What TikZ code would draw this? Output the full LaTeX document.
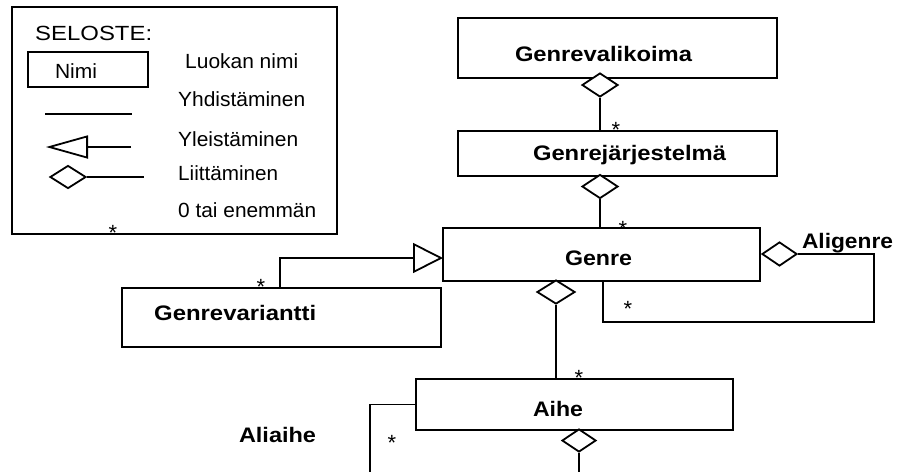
\documentclass[tikz,border=0pt]{standalone}
\usepackage{fontspec}
\setmainfont{Liberation Sans}
\usetikzlibrary{shapes.geometric,arrows.meta}
\newcommand\fw[2]{\resizebox{#1pt}{\height}{#2}}
\tikzset{
  box/.style={draw, line width=1.8pt, rectangle, inner sep=0pt},
  lbl/.style={font=\fontsize{21}{25}\selectfont\bfseries, inner sep=0pt, anchor=base},
  txt/.style={font=\fontsize{20.5}{24}\selectfont, inner sep=0pt, anchor=base west},
  star/.style={font=\fontsize{22}{26}\selectfont, inner sep=0pt, anchor=base},
  agg/.style={draw, diamond, fill=white, line width=1.8pt, inner sep=0pt, minimum width=36pt, minimum height=24pt},
  conn/.style={line width=1.8pt},
  gen/.style={conn, -{Triangle[open, length=30pt, width=30pt]}}
}
\begin{document}
\begin{tikzpicture}[x=1pt, y=-1pt]
\useasboundingbox (0,0) rectangle (900,472);
% legend
\node[box, minimum width=325pt, minimum height=227pt] (legend) at (174.5,120.5) {};
\node[txt] (seloste) at (35,40) {\fw{117}{SELOSTE:}};
\node[box, minimum width=120pt, minimum height=35pt] (nimibox) at (88,69.5) {};
\node[txt, anchor=base] (nimi) at (76,78) {\fw{42}{Nimi}};
\node[txt] (t1) at (185,68) {\fw{113}{Luokan nimi}};
\node[txt] (t2) at (178,106) {\fw{127}{Yhdistäminen}};
\node[txt] (t3) at (178,146) {\fw{120}{Yleistäminen}};
\node[txt] (t4) at (178,180) {\fw{100}{Liittäminen}};
\node[txt] (t5) at (178,217) {\fw{138}{0 tai enemmän}};
\node[star] (ls) at (113,240) {*};
\coordinate (la1) at (45,114);
\coordinate (la2) at (132,114);
\draw[conn] (la1) -- (la2);
\coordinate (lg1) at (46,147);
\coordinate (lg2) at (131,147);
\draw[conn, -{Triangle[open, length=42pt, width=23pt]}] (lg2) -- (lg1);
\node[agg, minimum width=36pt, minimum height=23pt] (ld) at (68,177) {};
\coordinate (ld2) at (144,177);
\draw[conn] (ld.east) -- (ld2);

% classes
\node[box, minimum width=319pt, minimum height=60pt] (gv) at (617.5,48) {};
\node[lbl] at (603.5,61) {\fw{177}{Genrevalikoima}};
\node[box, minimum width=319pt, minimum height=45pt] (gj) at (617.5,153.5) {};
\node[lbl] at (629.5,160) {\fw{193}{Genrejärjestelmä}};
\node[box, minimum width=317pt, minimum height=53pt] (genre) at (601.5,254.5) {};
\node[lbl] at (598.5,265) {\fw{67}{Genre}};
\node[box, minimum width=319pt, minimum height=59pt] (gvar) at (281.5,317.5) {};
\node[lbl, anchor=base west] at (154,320) {\fw{162}{Genrevariantti}};
\node[box, minimum width=317pt, minimum height=51pt] (aihe) at (574.5,404.5) {};
\node[lbl] at (558,416) {\fw{50}{Aihe}};

% aggregations
\node[agg] (d1) at (600,85) {};
\draw[conn] (d1.south) -- (d1.south |- gj.north);
\node[star] at (616,137) {*};
\node[agg] (d2) at (600,186.5) {};
\draw[conn] (d2.south) -- (d2.south |- genre.north);
\node[star] at (623,236) {*};

% Aligenre
\node[agg, minimum width=35pt] (d4) at (779.5,254) {};
\coordinate (ag1) at (874,322);
\coordinate (ag2) at (603,281);
\draw[conn] (d4.east) -| (ag1) -| (ag2);
\node[lbl] at (847.5,248) {\fw{91}{Aligenre}};
\node[star] at (628,316) {*};

% generalization
\coordinate (gv1) at (280,288);
\coordinate (g1) at (443,258);
\draw[gen] (gv1) |- (g1);
\node[star] at (261,294) {*};

% Genre - Aihe
\node[agg, minimum width=38pt] (d3) at (556,292) {};
\draw[conn] (d3.south) -- (d3.south |- aihe.north);
\node[star] at (579,385) {*};

% Aihe
\node[agg, minimum width=34pt, minimum height=23pt] (d5) at (579,440.5) {};
\coordinate (d5e) at (579,472);
\draw[conn] (d5.south) -- (d5e);
\coordinate (al2) at (370,472);
\draw[conn] (aihe.west) -| (al2);
\node[star] at (392,450) {*};
\node[lbl] at (277.5,442) {\fw{77}{Aliaihe}};
\end{tikzpicture}
\end{document}
